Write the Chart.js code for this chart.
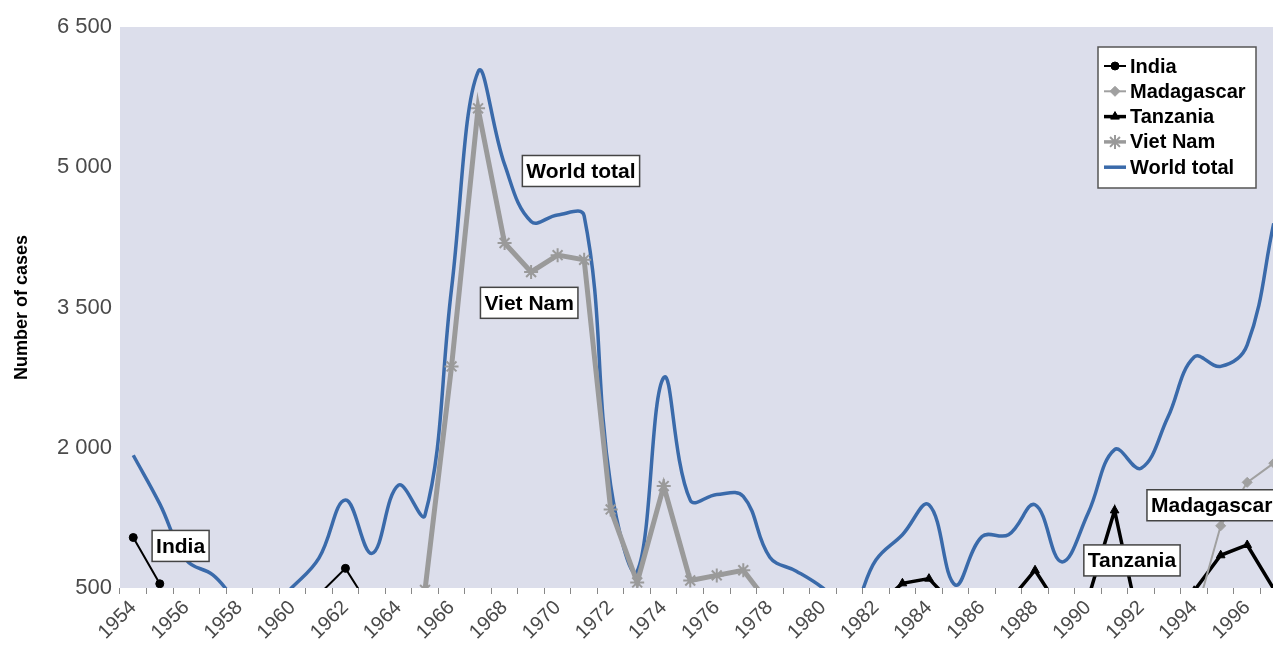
<!DOCTYPE html>
<html>
<head>
<meta charset="utf-8">
<script src="https://cdn.jsdelivr.net/npm/chart.js@4.4.0/dist/chart.umd.min.js"></script>
<style>
  html, body { margin: 0; padding: 0; overflow: hidden; background: #fff; }
  canvas { display: block; }
</style>
</head>
<body>
<canvas id="cases-chart" width="1296" height="653"></canvas>
<script>
let years = ['1954','1955','1956','1957','1958','1959','1960','1961','1962','1963','1964',
             '1965','1966','1967','1968','1969','1970','1971','1972','1973','1974','1975',
             '1976','1977','1978','1979','1980','1981','1982','1983','1984','1985','1986',
             '1987','1988','1989','1990','1991','1992','1993','1994','1995','1996','1997'];

let india = [1040, 545, null, null, null, null, null, 430, 710, 260,
             null, null, null, null, null, null, null, null, null, null, null, null,
             null, null, null, null, null, null, null, null, null, null, null, null,
             null, null, null, null, null, null, null, null, null, null];

let madagascar = [null, null, null, null, null, null, null, null, null, null, null,
                  null, null, null, null, null, null, null, null, null, null, null,
                  null, null, null, null, null, null, null, null, null, null, null,
                  null, null, null, null, null, null, null, 150, 1165, 1630, 1835];

let tanzania = [null, null, null, null, null, null, null, null, null, null, null,
                null, null, null, null, null, null, null, null, null, null, null,
                null, null, null, null, null, null, 300, 550, 600, 300, null,
                350, 690, 250, 385, 1330, 20, null, 470, 850, 960, 490];

let vietNam = [null, null, null, null, null, null, null, null, null, null, null,
               480, 2870, 5630, 4190, 3880, 4060, 4010, 1340, 560, 1590, 580,
               635, 690, 320, null, null, null, null, null, null, null, null,
               null, null, null, null, null, null, null, null, null, null, null];

let worldTotal = [1920, 1400, 800, 640, 350, 250, 510, 820, 1440, 870, 1600,
                  1280, 3700, 6020, 5030, 4420, 4490, 4480, 1600, 680, 2750, 1440,
                  1500, 1480, 830, 680, 500, 250, 800, 1070, 1390, 530, 1050,
                  1070, 1390, 780, 1300, 1980, 1780, 2320, 2970, 2870, 3100, 4400];

let yTicks = [500, 2000, 3500, 5000, 6500];

// text tags inside the plot: [label, year, value at the tag's middle]
let tags = [
    ['India', 1954.71, 950],
    ['World total', 1968.67, 4960],
    ['Viet Nam', 1967.09, 3550],
    ['Tanzania', 1989.84, 795],
    ['Madagascar', 1992.22, 1385]
];

const boldFont = '"Liberation Sans", Arial, sans-serif';

// lavender plot background
const plotBg = {
    id: 'plotBg',
    beforeDraw(chart) {
        const a = chart.chartArea, ctx = chart.ctx;
        ctx.save();
        ctx.fillStyle = 'rgb(220,222,235)';
        ctx.fillRect(a.left, a.top, a.right - a.left, a.bottom - a.top);
        ctx.restore();
    }
};

// boxed labels + legend
const overlay = {
    id: 'overlay',
    afterDraw(chart) {
        const ctx = chart.ctx, a = chart.chartArea;
        const xs = chart.scales.x, ys = chart.scales.y;
        const step = xs.getPixelForValue(1) - xs.getPixelForValue(0);
        ctx.save();
        ctx.font = 'bold 21px ' + boldFont;
        ctx.textBaseline = 'middle';
        tags.forEach(t => {
            const x = xs.getPixelForValue(0) + (t[1] - Number(years[0])) * step;
            const y = ys.getPixelForValue(t[2]);
            const w = ctx.measureText(t[0]).width + 8;
            const h = 31;
            ctx.fillStyle = '#fff';
            ctx.fillRect(x, y - h / 2, w, h);
            ctx.strokeStyle = '#444';
            ctx.lineWidth = 1.5;
            ctx.strokeRect(x, y - h / 2, w, h);
            ctx.fillStyle = '#000';
            ctx.textAlign = 'left';
            ctx.fillText(t[0], x + 4, y + 1);
        });

        // legend box (window is 1273 wide, so place it from the visible edge)
        const lx = 1098, ly = a.top + 20, lw = 158, lh = 141;
        ctx.fillStyle = '#fff';
        ctx.fillRect(lx, ly, lw, lh);
        ctx.strokeStyle = '#555';
        ctx.lineWidth = 1.5;
        ctx.strokeRect(lx, ly, lw, lh);
        ctx.font = 'bold 20px ' + boldFont;
        chart.data.datasets.forEach((ds, i) => {
            const cy = ly + 19 + i * 25.3;
            const mx = lx + 17;
            ctx.strokeStyle = ds.borderColor;
            ctx.lineWidth = Math.min(ds.borderWidth, 3.5);
            ctx.beginPath();
            ctx.moveTo(mx - 11, cy);
            ctx.lineTo(mx + 11, cy);
            ctx.stroke();
            if (ds.pointRadius > 0) {
                ctx.fillStyle = ds.pointBackgroundColor;
                ctx.strokeStyle = ds.pointBorderColor;
                ctx.lineWidth = ds.pointBorderWidth;
                Chart.helpers.drawPoint(ctx, {pointStyle: ds.pointStyle, radius: ds.pointRadius,
                    rotation: 0, borderWidth: ds.pointBorderWidth}, mx, cy);
            }
            ctx.fillStyle = '#000';
            ctx.fillText(ds.label, lx + 32, cy + 1);
        });
        ctx.restore();
    }
};

let ctx = document.getElementById('cases-chart').getContext('2d');

new Chart(ctx, {
    type: 'line',
    data: {
        labels: years,
        datasets: [
            {
                label: 'India', data: india,
                borderColor: '#000', borderWidth: 2,
                pointStyle: 'circle', pointRadius: 4,
                pointBackgroundColor: '#000', pointBorderColor: '#000', pointBorderWidth: 1,
                tension: 0
            },
            {
                label: 'Madagascar', data: madagascar,
                borderColor: '#a0a0a0', borderWidth: 2,
                pointStyle: 'rectRot', pointRadius: 5,
                pointBackgroundColor: '#a0a0a0', pointBorderColor: '#a0a0a0', pointBorderWidth: 1,
                tension: 0
            },
            {
                label: 'Tanzania', data: tanzania,
                borderColor: '#000', borderWidth: 3.5,
                pointStyle: 'triangle', pointRadius: 5,
                pointBackgroundColor: '#000', pointBorderColor: '#000', pointBorderWidth: 1,
                tension: 0
            },
            {
                label: 'Viet Nam', data: vietNam,
                borderColor: '#9a9a9a', borderWidth: 5,
                pointStyle: 'star', pointRadius: 7,
                pointBackgroundColor: '#9a9a9a', pointBorderColor: '#9a9a9a', pointBorderWidth: 2,
                tension: 0
            },
            {
                label: 'World total', data: worldTotal,
                borderColor: '#3a6aaa', borderWidth: 3.5,
                pointRadius: 0,
                tension: 0.4
            }
        ]
    },
    options: {
        responsive: false,
        animation: false,
        layout: { padding: { top: 27, left: 0, right: 0, bottom: 0 } },
        plugins: {
            legend: { display: false },
            tooltip: { enabled: false }
        },
        scales: {
            x: {
                offset: true,
                grid: { display: true, drawOnChartArea: false, drawTicks: true, tickLength: 6,
                        offset: true, color: '#888' },
                border: { display: false },
                ticks: {
                    autoSkip: false, minRotation: 45, maxRotation: 45, padding: 2,
                    color: '#4a4a4a', font: { family: 'Arial, "Liberation Sans", sans-serif', size: 20 },
                    callback: function (val, i) { return i % 2 === 0 ? this.getLabelForValue(val) : ''; }
                },
                afterFit: s => { s.height = 65; }
            },
            y: {
                min: 500, max: 6500,
                afterBuildTicks: s => { s.ticks = yTicks.map(v => ({ value: v })); },
                grid: { display: false, drawTicks: false },
                border: { display: false },
                ticks: {
                    padding: 8,
                    color: '#4a4a4a', font: { family: 'Arial, "Liberation Sans", sans-serif', size: 22 },
                    callback: v => String(v).replace(/\B(?=(\d{3})+(?!\d))/g, ' ')
                },
                title: {
                    display: true, text: 'Number of cases', color: '#000',
                    font: { family: boldFont, size: 18, weight: 'bold' },
                    padding: { top: 11, bottom: 0 }
                },
                afterFit: s => { s.width = 120; }
            }
        }
    },
    plugins: [plotBg, overlay]
});
</script>
</body>
</html>
